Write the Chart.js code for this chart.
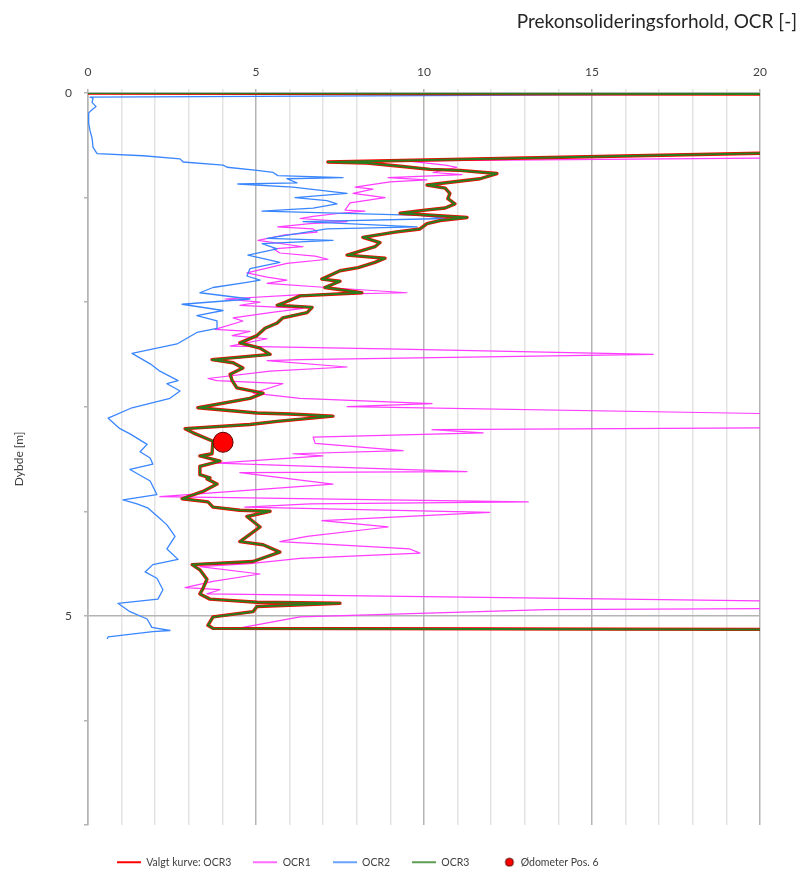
<!DOCTYPE html>
<html>
<head>
<meta charset="utf-8">
<script src="https://cdn.jsdelivr.net/npm/chart.js@4"></script>
<style>
  html, body { margin: 0; padding: 0; background: #ffffff; }
  #wrap { width: 803px; height: 870px; }
</style>
</head>
<body>
<div id="wrap"><canvas id="c" width="803" height="870"></canvas></div>
<script>
// ---- data (OCR value, depth in m) ----
const chartTitle = 'Prekonsolideringsforhold, OCR [-]';
const yAxisTitle = 'Dybde [m]';
const seriesNames = ['Valgt kurve: OCR3', 'OCR1', 'OCR2', 'OCR3', 'Ødometer Pos. 6'];
const xTickLabels = [0, 5, 10, 15, 20];
const yTickLabels = [0, 5];

const ocr1Values = [21, 9.49, 10.63, 10.98, 10.27, 11.13, 8.93, 10.09, 8.99, 7.95,
  8.48, 7.89, 8.84, 7.80, 7.65, 8.24, 7.50, 6.70, 6.31, 7.71,
  6.61, 5.65, 6.70, 6.82, 5.80, 5.06, 6.40, 5.51, 5.71, 6.76,
  7.14, 5.92, 4.73, 5.33, 5.92, 5.33, 7.11, 9.49, 6.22, 4.08,
  5.12, 4.52, 6.40, 5.42, 4.32, 4.61, 3.78, 4.82, 4.29, 5.33,
  4.23, 9.29, 16.82, 6.31, 5.33, 7.71, 5.42, 3.57, 3.84, 5.80,
  4.91, 6.31, 10.24, 7.71, 21, 24, 21, 10.24, 11.76, 6.70,
  6.76, 9.38, 6.10, 6.99, 3.84, 11.28, 4.52, 7.29, 2.14, 13.10,
  6.61, 4.67, 11.96, 6.96, 8.93, 6.52, 5.71, 9.58, 9.88, 6.31,
  4.82, 3.33, 5.12, 3.72, 2.89, 3.93, 3.54, 21, 24, 21,
  13.66, 6.31, 4.61, 21];
const ocr1Depths = [0.62, 0.65, 0.69, 0.71, 0.76, 0.78, 0.81, 0.83, 0.85, 0.90,
  0.92, 0.96, 1.00, 1.05, 1.12, 1.13, 1.15, 1.18, 1.20, 1.23,
  1.25, 1.28, 1.30, 1.33, 1.36, 1.41, 1.47, 1.49, 1.53, 1.56,
  1.59, 1.63, 1.72, 1.76, 1.79, 1.82, 1.86, 1.91, 1.93, 1.97,
  2.00, 2.03, 2.06, 2.10, 2.15, 2.18, 2.26, 2.28, 2.32, 2.35,
  2.42, 2.45, 2.50, 2.55, 2.56, 2.62, 2.66, 2.73, 2.75, 2.78,
  2.87, 2.92, 2.97, 3.00, 3.07, 3.12, 3.20, 3.22, 3.25, 3.29,
  3.35, 3.42, 3.45, 3.47, 3.54, 3.62, 3.63, 3.74, 3.86, 3.91,
  3.93, 3.96, 4.01, 4.09, 4.15, 4.24, 4.29, 4.36, 4.40, 4.45,
  4.50, 4.53, 4.60, 4.67, 4.73, 4.75, 4.79, 4.86, 4.90, 4.93,
  4.94, 5.01, 5.11, 5.13];

const ocr2Values = [21, 0.06, 0.15, 0.12, 0.24, 0.12, 0.02, 0.02, 0.06, 0.12,
  0.15, 0.27, 1.64, 2.74, 2.83, 4.02, 4.14, 5.03, 5.51, 5.65,
  7.59, 5.92, 6.22, 4.46, 6.10, 7.71, 6.16, 7.11, 7.41, 6.70,
  5.18, 9.88, 10.68, 6.40, 9.79, 7.11, 5.33, 7.29, 5.18, 5.63,
  4.76, 5.71, 4.82, 4.73, 5.12, 4.73, 3.72, 3.33, 4.82, 2.80,
  4.02, 3.24, 3.84, 3.84, 3.24, 2.65, 1.31, 1.85, 2.14, 2.68,
  2.35, 2.74, 2.44, 1.31, 0.60, 0.95, 1.25, 1.76, 1.55, 1.85,
  1.93, 1.25, 1.85, 2.05, 1.04, 1.46, 1.79, 2.14, 2.35, 2.59,
  2.35, 2.68, 1.93, 1.70, 2.05, 2.23, 2.08, 0.89, 1.25, 1.76,
  1.90, 2.44, 1.93, 0.60, 0.57];
const ocr2Depths = [0.01, 0.04, 0.05, 0.09, 0.13, 0.16, 0.19, 0.29, 0.36, 0.43,
  0.52, 0.58, 0.60, 0.63, 0.66, 0.69, 0.71, 0.74, 0.76, 0.79,
  0.81, 0.82, 0.86, 0.87, 0.90, 0.96, 1.00, 1.03, 1.06, 1.10,
  1.13, 1.17, 1.20, 1.23, 1.28, 1.30, 1.39, 1.41, 1.44, 1.49,
  1.55, 1.62, 1.68, 1.75, 1.79, 1.81, 1.86, 1.91, 1.97, 2.02,
  2.08, 2.13, 2.18, 2.25, 2.29, 2.40, 2.49, 2.59, 2.66, 2.75,
  2.78, 2.85, 2.92, 3.01, 3.11, 3.21, 3.26, 3.36, 3.43, 3.49,
  3.55, 3.60, 3.71, 3.84, 3.89, 3.93, 3.97, 4.07, 4.13, 4.24,
  4.36, 4.46, 4.51, 4.58, 4.64, 4.75, 4.84, 4.88, 4.96, 5.03,
  5.11, 5.14, 5.15, 5.20, 5.22];

const ocr3Values = [0, 21, 21, 7.14, 8.30, 9.29, 10.18, 11.07, 12.17, 11.67,
  10.09, 10.63, 10.77, 10.71, 10.92, 10.63, 10.03, 9.29, 11.28, 10.48,
  10.09, 9.88, 9.14, 8.18, 8.69, 8.54, 7.71, 8.84, 8.54, 8.04,
  7.50, 6.96, 7.50, 7.05, 8.15, 6.31, 5.80, 5.63, 6.67, 6.52,
  5.80, 5.63, 5.27, 5.03, 4.52, 5.12, 5.42, 3.69, 4.32, 4.61,
  4.23, 4.29, 4.43, 5.21, 4.82, 3.27, 5.03, 6.01, 7.29, 5.63,
  4.82, 2.89, 3.13, 3.72, 3.69, 3.33, 3.93, 3.33, 3.33, 3.63,
  3.54, 3.84, 3.42, 2.80, 3.57, 3.72, 4.52, 5.42, 4.73, 5.12,
  4.82, 4.52, 5.21, 5.71, 4.91, 3.10, 3.33, 3.54, 3.42, 3.33,
  3.63, 5.03, 7.50, 5.03, 4.91, 3.72, 3.57, 3.72, 21];
const ocr3Depths = [0, 0.01, 0.57, 0.66, 0.67, 0.70, 0.73, 0.74, 0.77, 0.82,
  0.88, 0.91, 0.96, 1.01, 1.06, 1.10, 1.12, 1.15, 1.19, 1.22,
  1.25, 1.30, 1.33, 1.38, 1.43, 1.47, 1.55, 1.58, 1.62, 1.67,
  1.70, 1.78, 1.80, 1.86, 1.91, 1.94, 2.01, 2.03, 2.05, 2.10,
  2.15, 2.20, 2.25, 2.32, 2.39, 2.44, 2.50, 2.55, 2.58, 2.63,
  2.69, 2.75, 2.82, 2.87, 2.92, 3.01, 3.06, 3.07, 3.09, 3.14,
  3.17, 3.21, 3.25, 3.33, 3.45, 3.47, 3.52, 3.57, 3.65, 3.68,
  3.69, 3.74, 3.81, 3.88, 3.91, 3.96, 3.99, 4.00, 4.05, 4.15,
  4.22, 4.29, 4.32, 4.39, 4.48, 4.51, 4.56, 4.65, 4.74, 4.79,
  4.84, 4.87, 4.88, 4.91, 4.96, 5.01, 5.09, 5.12, 5.13];

// chosen curve = OCR3
const valgtValues = ocr3Values;
const valgtDepths = ocr3Depths;

const oedometerValues = [4.02];
const oedometerDepths = [3.34];

// ---- styling ----
const colors = { valgt: '#ff0000', ocr1: '#ff3cff', ocr2: '#3a86ff', ocr3: '#2a7d1c', oed: '#ff0000' };
const FONT = 'Lato, "Open Sans", "Liberation Sans", sans-serif';
const TXT = '#404040';
const GRID_MAJOR = '#b4b4b4';
const GRID_MINOR = '#e3e3e3';

const toPts = (xs, ys) => xs.map((v, i) => ({ x: v, y: ys[i] }));

function lineIcon(color, thick) {
  const c = document.createElement('canvas');
  c.width = 24; c.height = 4;
  const g = c.getContext('2d');
  g.fillStyle = color;
  g.fillRect(0, (4 - thick) / 2, 24, thick);
  return c;
}
function dotIcon() {
  const c = document.createElement('canvas');
  c.width = 24; c.height = 10;
  const g = c.getContext('2d');
  g.beginPath(); g.arc(18, 5, 4, 0, Math.PI * 2);
  g.fillStyle = colors.oed; g.fill();
  g.lineWidth = 1; g.strokeStyle = '#600000'; g.stroke();
  return c;
}
const legendIcons = [lineIcon(colors.valgt, 2), lineIcon(colors.ocr1, 1.5), lineIcon(colors.ocr2, 1.5), lineIcon(colors.ocr3, 1.5), dotIcon()];

const lineDs = (label, xs, ys, color, w, order) => ({
  label, data: toPts(xs, ys), showLine: true, borderColor: color, backgroundColor: color,
  borderWidth: w, pointRadius: 0, pointHoverRadius: 0, tension: 0, order,
  borderJoinStyle: 'round'
});

// nudges the legend block to where the original places it
const legendShift = {
  id: 'legendShift',
  afterLayout(chart) {
    const lg = chart.legend;
    if (!lg) return;
    lg.top += 10; lg.bottom += 10; lg.left += 7; lg.right += 7;
  }
};

new Chart(document.getElementById('c'), {
  type: 'scatter',
  plugins: [legendShift],
  data: {
    datasets: [
      lineDs(seriesNames[0], valgtValues, valgtDepths, colors.valgt, 3.4, 2),
      lineDs(seriesNames[1], ocr1Values, ocr1Depths, colors.ocr1, 1.2, 4),
      lineDs(seriesNames[2], ocr2Values, ocr2Depths, colors.ocr2, 1.3, 3),
      lineDs(seriesNames[3], ocr3Values, ocr3Depths, colors.ocr3, 2.0, 1),
      {
        label: seriesNames[4], data: toPts(oedometerValues, oedometerDepths), showLine: false,
        pointRadius: 10, pointBackgroundColor: colors.oed, pointBorderColor: '#5a0000',
        pointBorderWidth: 1, backgroundColor: colors.oed, borderColor: '#5a0000', order: 0
      }
    ]
  },
  options: {
    responsive: false,
    animation: false,
    devicePixelRatio: 1,
    layout: { padding: { left: 8, right: 6, top: 0, bottom: 2.5 } },
    plugins: {
      tooltip: { enabled: false },
      title: {
        display: true, text: chartTitle, align: 'end', color: '#262626',
        font: { family: FONT, size: 19, weight: 'normal' }, padding: { top: 10, bottom: 0 }
      },
      legend: {
        position: 'bottom', align: 'start', fullSize: false,
        labels: {
          usePointStyle: true, pointStyleWidth: 24, boxHeight: 8, padding: 22,
          color: TXT, font: { family: FONT, size: 10.5 },
          sort: (a, b) => a.datasetIndex - b.datasetIndex,
          generateLabels(chart) {
            const items = Chart.defaults.plugins.legend.labels.generateLabels(chart);
            items.forEach(it => { it.pointStyle = legendIcons[it.datasetIndex]; });
            return items;
          }
        }
      }
    },
    scales: {
      x: {
        type: 'linear', position: 'top', min: 0, max: 20,
        afterFit(s) { s.height = 93 - 32.8; },
        ticks: {
          stepSize: 1, autoSkip: false, maxRotation: 0, padding: 10, color: TXT,
          font: { family: FONT, size: 12 },
          callback: v => xTickLabels.includes(v) ? String(v) : ''
        },
        grid: {
          color: c => (c.tick && c.tick.value % 5 === 0) ? GRID_MAJOR : GRID_MINOR,
          lineWidth: 1.5, tickLength: 4
        },
        border: { display: true, color: GRID_MAJOR, width: 1.5 }
      },
      y: {
        type: 'linear', position: 'left', min: 0, max: 7, reverse: true,
        afterFit(s) { s.width = 80; },
        title: { display: true, text: yAxisTitle, color: TXT, font: { family: FONT, size: 12 }, padding: { top: 4, bottom: 0 } },
        ticks: {
          stepSize: 1, autoSkip: false, padding: 12, color: TXT,
          font: { family: FONT, size: 12 },
          callback: v => yTickLabels.includes(v) ? String(v) : ''
        },
        grid: {
          color: c => (c.tick && yTickLabels.includes(c.tick.value)) ? GRID_MAJOR : 'rgba(0,0,0,0)',
          tickColor: GRID_MAJOR, lineWidth: 1.5, tickLength: 4
        },
        border: { display: true, color: GRID_MAJOR, width: 1.5 }
      },
      yRight: {
        type: 'linear', position: 'right', display: true,
        afterFit(s) { s.width = 37; },
        ticks: { display: false }, grid: { display: false }, border: { display: false }
      }
    }
  }
});
</script>
</body>
</html>
